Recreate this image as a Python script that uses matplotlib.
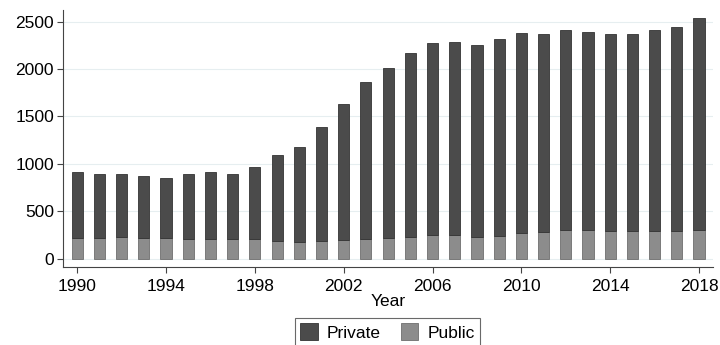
import matplotlib
matplotlib.use("Agg")
import matplotlib.pyplot as plt
import numpy as np

plt.rcParams['font.family'] = ['Liberation Sans', 'DejaVu Sans']

years = list(range(1990, 2019))
total = [914, 893, 893, 872, 848, 893, 919, 897, 971, 1094, 1179, 1387, 1633,
         1859, 2010, 2165, 2270, 2281, 2253, 2316, 2379, 2365, 2415, 2390,
         2369, 2365, 2408, 2446, 2534]
public = [218, 218, 225, 214, 214, 207, 207, 207, 207, 186, 172, 183, 193,
          204, 222, 228, 246, 246, 232, 243, 274, 281, 302, 302,
          296, 296, 296, 296, 299]
private = [t - p for t, p in zip(total, public)]

fig = plt.figure(figsize=(7.2, 3.45), dpi=100)
ax = fig.add_axes([0.0875, 0.226, 0.9025, 0.745])

x = np.array(years)
ax.bar(x, public, width=0.5, color='#8c8c8c', edgecolor='#6e6e6e', linewidth=0.6,
       label='Public', zorder=3)
ax.bar(x, private, bottom=public, width=0.5, color='#4b4b4b', edgecolor='#333333',
       linewidth=0.6, label='Private', zorder=3)

ax.set_xlim(1989.36, 2018.62)
ax.set_ylim(-88, 2622)
ax.set_yticks(range(0, 2501, 500))
ax.set_xticks(range(1990, 2019, 4))
ax.grid(axis='y', color='#e6eef0', linewidth=0.8, zorder=0)
ax.tick_params(labelsize=12.5, length=4.5, width=0.8, color='#444444')
ax.tick_params(axis='x', pad=4)
ax.tick_params(axis='y', pad=2)
for s in ['top', 'right']:
    ax.spines[s].set_visible(False)
for s in ['left', 'bottom']:
    ax.spines[s].set_color('#444444')
    ax.spines[s].set_linewidth(0.8)
ax.set_xlabel('Year', fontsize=12.5, labelpad=0)

handles, labels = ax.get_legend_handles_labels()
leg = fig.legend(handles[::-1], labels[::-1], loc='upper center', ncol=2,
                 bbox_to_anchor=(0.538, 0.078), fontsize=12.5, frameon=True,
                 fancybox=False, edgecolor='#444444', handlelength=1.0,
                 handleheight=1.1, columnspacing=1.2, borderpad=0.3,
                 handletextpad=0.5, borderaxespad=0)
leg.get_frame().set_linewidth(0.8)

fig.savefig('out.png', dpi=100)
